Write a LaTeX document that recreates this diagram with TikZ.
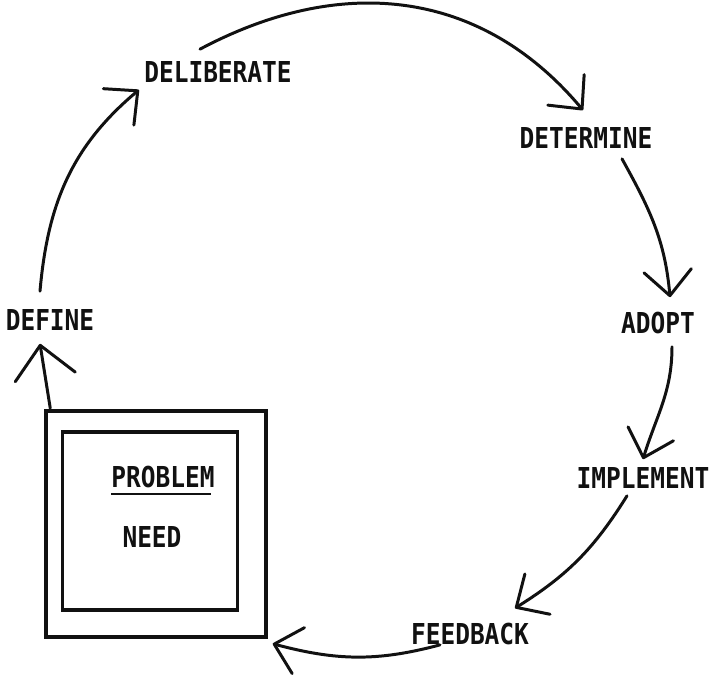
\documentclass[tikz,border=0pt]{standalone}
\usepackage{fontspec}
\usepackage{xcolor}
\usepackage{tikz}
\usetikzlibrary{arrows.meta,calc}
\newfontfamily\letterfont[FakeStretch=0.85]{DejaVu Sans Mono}
\definecolor{inkBlack}{HTML}{111111}

\begin{document}
\begin{tikzpicture}[
    x=0.02cm, y=0.02cm,
    word/.style={font=\letterfont\bfseries\fontsize{16.4}{18}\selectfont,
                 text height=0.42cm, text depth=0pt, inner sep=0.2cm, color=inkBlack},
    frame/.style={draw=inkBlack, line width=2pt},
    arrow/.style={-{Straight Barb[length=#1, width'=0pt 1.9, round]},
                  line width=1.7pt, color=inkBlack, line cap=round},
    arrow/.default=0.5cm
]
    \useasboundingbox (0,0) rectangle (710,-677);

    % --- Cycle steps ---
    \node[word] (deliberate) at (218,-72) {DELIBERATE};
    \node[word] (determine) at (586,-138) {DETERMINE};
    \node[word] (adopt) at (658,-323) {ADOPT};
    \node[word] (implement) at (643,-478) {IMPLEMENT};
    \node[word] (feedback) at (470,-634) {FEEDBACK};
    \node[word] (define) at (50,-320) {DEFINE};

    % --- Problem box ---
    \node[frame, minimum width=4.4cm, minimum height=4.52cm] (outer) at (156,-524) {};
    \node[frame, minimum width=3.5cm, minimum height=3.56cm] (inner) at (150,-521) {};
    \node[word, inner sep=0pt] (problem) at (163,-477) {PROBLEM};
    \node[word] (need) at (152,-537) {NEED};
    \draw[line width=1.5pt, inkBlack] ($(problem.south west)+(0,-6)$) -- ($(problem.south east)+(-4,-6)$);

    % --- Arrows ---
    \draw[arrow=0.64cm] ($(outer.north west)+(6,1)$) -- ($(define.south)+(-10,-3)$);
    \draw[arrow] ($(define.north)+(-10,8)$) to[out=85, in=-140] ($(deliberate.south west)+(5,3)$);
    \draw[arrow] ($(deliberate.north)+(-18,2)$) to[out=28, in=130, looseness=1.05] ($(determine.north)+(-3,7)$);
    \draw[arrow] ($(determine.south)+(36,0)$) to[out=-61, in=95] ($(adopt.north)+(12,5)$);
    \draw[arrow] ($(adopt.south)+(14,-3)$) to[out=-90, in=73] ($(implement.north)+(0,-2)$);
    \draw[arrow] ($(implement.south)+(-16,3)$) to[out=-122, in=32] ($(feedback.north)+(45,5)$);
    \draw[arrow] ($(feedback.south)+(-30,10)$) to[out=195, in=-15] ($(outer.south east)+(5,-5)$);
\end{tikzpicture}
\end{document}
